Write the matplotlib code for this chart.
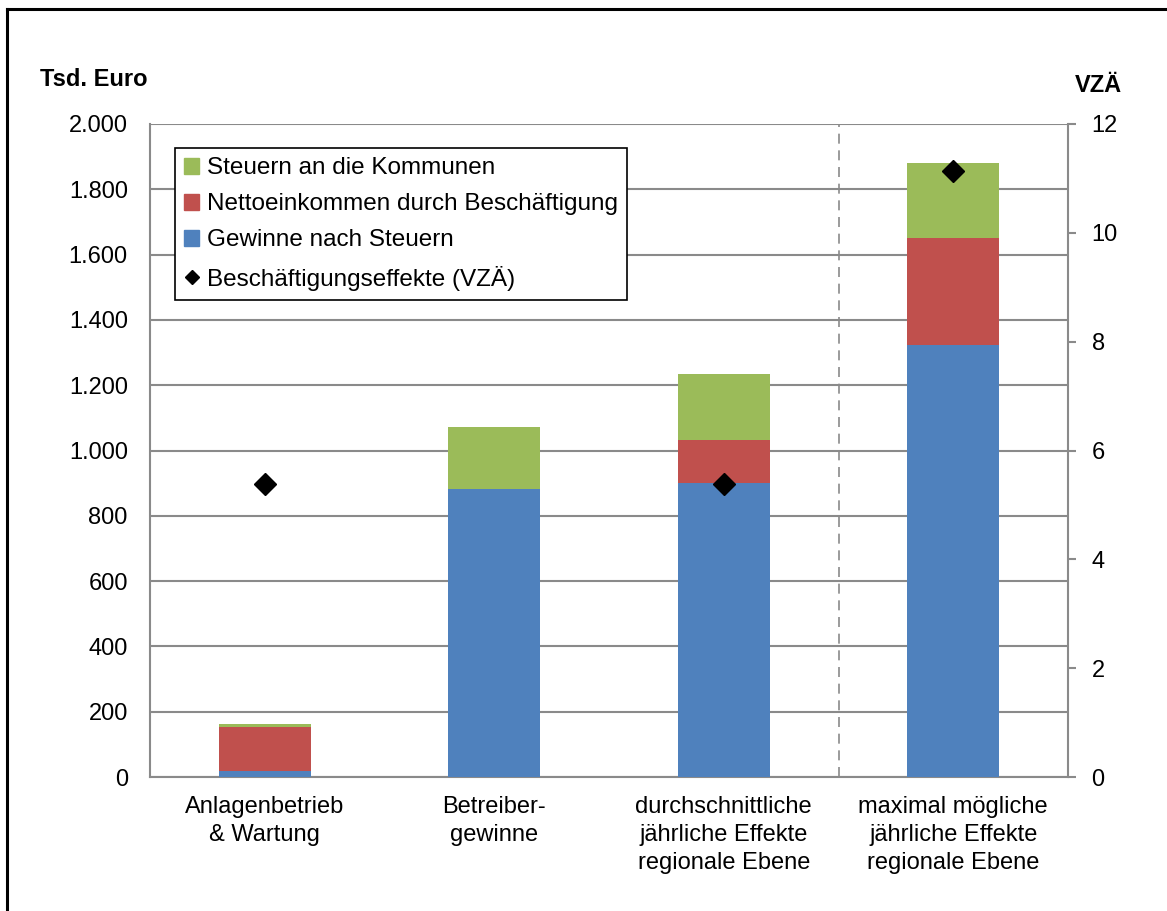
import matplotlib
matplotlib.use("Agg")
import matplotlib.pyplot as plt
from matplotlib.lines import Line2D
from matplotlib.patches import Patch
import numpy as np

plt.rcParams['font.family'] = ['Liberation Sans', 'DejaVu Sans']

categories = ["Anlagenbetrieb\n& Wartung", "Betreiber-\ngewinne",
              "durchschnittliche\njährliche Effekte\nregionale Ebene",
              "maximal mögliche\njährliche Effekte\nregionale Ebene"]
gewinne = [19, 882, 900, 1322]
netto = [134, 0, 133, 328]
steuern = [9, 190, 202, 232]
vza = [5.38, np.nan, 5.38, 11.14]

left_ticks = [0, 200, 400, 600, 800, 1000, 1200, 1400, 1600, 1800, 2000]
left_labels = ["0", "200", "400", "600", "800", "1.000", "1.200", "1.400", "1.600", "1.800", "2.000"]
right_ticks = [0, 2, 4, 6, 8, 10, 12]

c_blue = "#4f81bd"
c_red = "#c0504d"
c_green = "#9bbb59"
gray = "#8a8a8a"
FS = 17

fig = plt.figure(figsize=(11.67, 9.11), dpi=100)
ax = fig.add_axes([150/1167, 1-777/911, 918/1167, 653/911])
x = np.arange(len(categories))
w = 0.40
b1 = np.array(gewinne)
b2 = b1 + np.array(netto)
ax.bar(x, gewinne, w, color=c_blue, zorder=3)
ax.bar(x, netto, w, bottom=b1, color=c_red, zorder=3)
ax.bar(x, steuern, w, bottom=b2, color=c_green, zorder=3)

ax.set_xlim(-0.5, 3.5)
ax.set_ylim(0, 2000)
ax.set_yticks(left_ticks)
ax.set_yticklabels(left_labels, fontsize=FS)
ax.set_xticks(x)
ax.set_xticklabels(categories, fontsize=FS, linespacing=1.35)
ax.tick_params(axis='y', length=0, pad=16)
ax.tick_params(axis='x', length=0, pad=14)
ax.grid(axis='y', color=gray, linewidth=1.5, zorder=0)
ax.set_axisbelow(True)
for s in ['left', 'bottom']:
    ax.spines[s].set_color(gray)
    ax.spines[s].set_linewidth(1.5)
ax.spines['top'].set_visible(False)
ax.spines['right'].set_visible(False)
ax.axvline(2.5, color=gray, linestyle=(0, (6, 4)), linewidth=1.2, zorder=1)

ax2 = ax.twinx()
ax2.set_ylim(0, 12)
ax2.set_yticks(right_ticks)
ax2.set_yticklabels([str(t) for t in right_ticks], fontsize=FS)
ax2.tick_params(axis='y', length=6, width=1.5, color=gray, pad=11)
ax2.spines['right'].set_color(gray)
ax2.spines['right'].set_linewidth(1.5)
for s in ['left', 'top', 'bottom']:
    ax2.spines[s].set_visible(False)
ax2.plot(x, vza, linestyle='none', marker='D', color='black', markersize=11, zorder=5)

fig.text(40/1167, 1-80/911, "Tsd. Euro", fontsize=FS, fontweight='bold', va='center', ha='left')
fig.text(1122/1167, 1-85/911, "VZÄ", fontsize=FS, fontweight='bold', va='center', ha='right')

handles = [Patch(color=c_green, label="Steuern an die Kommunen"),
           Patch(color=c_red, label="Nettoeinkommen durch Beschäftigung"),
           Patch(color=c_blue, label="Gewinne nach Steuern"),
           Line2D([], [], linestyle='none', marker='D', color='black', markersize=7,
                  label="Beschäftigungseffekte (VZÄ)")]
leg = ax2.legend(handles=handles, loc='upper left', bbox_to_anchor=(25/918, 1-24/653),
                 fontsize=17.5, frameon=True, fancybox=False, edgecolor='black',
                 framealpha=1, handlelength=0.62, handleheight=0.62, handletextpad=0.3,
                 borderpad=0.38, labelspacing=0.58, borderaxespad=0)
leg.get_frame().set_linewidth(1.2)

fig.add_artist(Line2D([7/1167, 7/1167], [0, 1-9/911], color='black', linewidth=2.2, transform=fig.transFigure))
fig.add_artist(Line2D([7/1167, 1], [1-9/911, 1-9/911], color='black', linewidth=2.2, transform=fig.transFigure))

fig.savefig("out.png", dpi=100)
